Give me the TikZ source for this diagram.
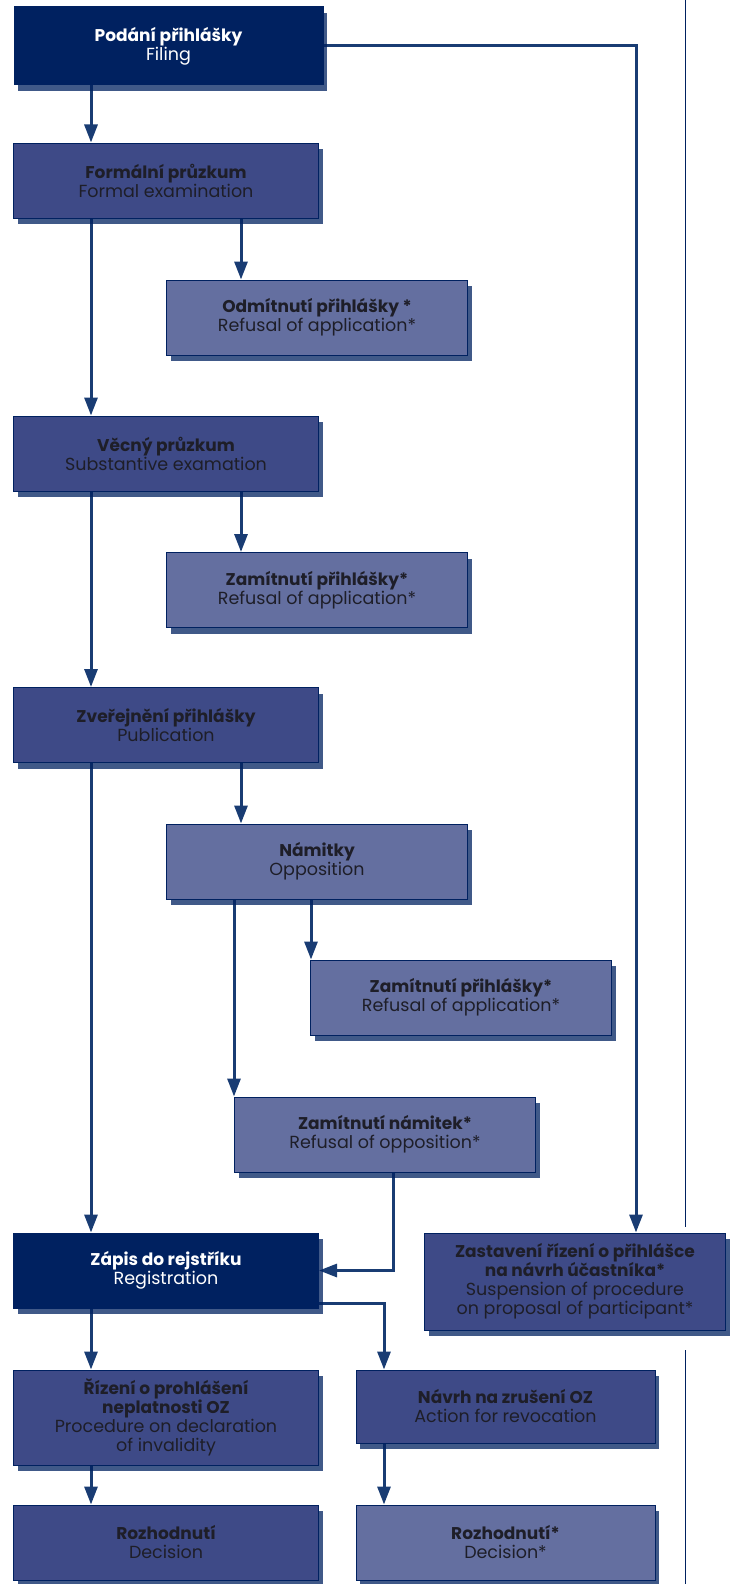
\documentclass[tikz,border=0pt]{standalone}
\usepackage{fontspec}
\setmainfont{Poppins}
\usetikzlibrary{arrows.meta, shadows}

\definecolor{navyDark}{RGB}{0,33,96}
\definecolor{navyMid}{RGB}{62,74,135}
\definecolor{navyLight}{RGB}{100,111,160}
\definecolor{lineBlue}{RGB}{25,60,115}
\definecolor{textDark}{RGB}{30,30,40}

\pgfdeclarelayer{background}
\pgfsetlayers{background,main}

\newcommand{\cz}[1]{{\fontsize{17}{19}\selectfont\bfseries #1}}

\tikzset{
	box/.style={draw=navyDark, line width=1pt, align=center, inner sep=0pt, text=textDark,
		font=\fontsize{17.5}{19}\selectfont,
		drop shadow={shadow xshift=4pt, shadow yshift=-6pt, fill=navyDark, opacity=0.75}},
	darkbox/.style={box, fill=navyDark, text=white},
	midbox/.style={box, fill=navyMid},
	lightbox/.style={box, fill=navyLight},
	flow/.style={draw=lineBlue, line width=3pt, -{Triangle[width=13pt,length=18pt]}},
}

\begin{document}
\begin{tikzpicture}[x=1pt, y=-1pt]
	\def\wLeft{305};
	\def\wRight{301};
	\def\hBox{75};

	\useasboundingbox (0,0) rectangle (734,1584);

	% left column
	\node[darkbox, minimum width=309pt, minimum height=78pt] (filing) at (168.5,46) {\cz{Podání přihlášky}\\Filing};
	\node[midbox, minimum width=\wLeft pt, minimum height=\hBox pt] (formal) at (166,180.5) {\cz{Formální průzkum}\\Formal examination};
	\node[midbox, minimum width=\wLeft pt, minimum height=\hBox pt] (substantive) at (166,453.5) {\cz{Věcný průzkum}\\Substantive examation};
	\node[midbox, minimum width=\wLeft pt, minimum height=\hBox pt] (publication) at (166,725) {\cz{Zveřejnění přihlášky}\\Publication};
	\node[darkbox, minimum width=\wLeft pt, minimum height=\hBox pt] (registration) at (166,1270.5) {\cz{Zápis do rejstříku}\\Registration};
	\node[midbox, minimum width=\wLeft pt, minimum height=95pt] (invalidity) at (166,1417.5) {\cz{Řízení o prohlášení}\\\cz{neplatnosti OZ}\\Procedure on declaration\\of invalidity};
	\node[midbox, minimum width=\wLeft pt, minimum height=\hBox pt] (decision) at (166,1542.5) {\cz{Rozhodnutí}\\Decision};

	% side branches
	\node[lightbox, minimum width=\wRight pt, minimum height=\hBox pt] (refusalA) at (317,317.5) {\cz{Odmítnutí přihlášky *}\\Refusal of application*};
	\node[lightbox, minimum width=\wRight pt, minimum height=\hBox pt] (refusalB) at (317,590) {\cz{Zamítnutí přihlášky*}\\Refusal of application*};
	\node[lightbox, minimum width=\wRight pt, minimum height=\hBox pt] (opposition) at (317,861.5) {\cz{Námitky}\\Opposition};
	\node[lightbox, minimum width=\wRight pt, minimum height=\hBox pt] (refusalC) at (461,997.5) {\cz{Zamítnutí přihlášky*}\\Refusal of application*};
	\node[lightbox, minimum width=\wRight pt, minimum height=\hBox pt] (oppRefusal) at (385,1134.5) {\cz{Zamítnutí námitek*}\\Refusal of opposition*};
	\node[midbox, minimum width=\wRight pt, minimum height=97pt] (suspension) at (575,1281.5) {\cz{Zastavení řízení o přihlášce}\\\cz{na návrh účastníka*}\\Suspension of procedure\\on proposal of participant*};
	\node[midbox, minimum width=299pt, minimum height=73pt] (revocation) at (505.5,1406.5) {\cz{Návrh na zrušení OZ}\\Action for revocation};
	\node[lightbox, minimum width=299pt, minimum height=\hBox pt] (decisionR) at (505.5,1542.5) {\cz{Rozhodnutí*}\\Decision*};

	\coordinate (colA) at (91,0);
	\coordinate (colB) at (241,0);
	\coordinate (colC) at (311,0);
	\coordinate (colD) at (234,0);
	\coordinate (colE) at (393,0);
	\coordinate (colF) at (384,0);
	\coordinate (colR) at (636,0);

	\begin{pgfonlayer}{background}
		\begin{scope}[flow]
			\draw (filing.south -| colA) -- (formal.north -| colA);
			\draw (formal.south -| colA) -- (substantive.north -| colA);
			\draw (substantive.south -| colA) -- (publication.north -| colA);
			\draw (publication.south -| colA) -- (registration.north -| colA);
			\draw (registration.south -| colA) -- (invalidity.north -| colA);
			\draw (invalidity.south -| colA) -- (decision.north -| colA);

			\draw (formal.south -| colB) -- (refusalA.north -| colB);
			\draw (substantive.south -| colB) -- (refusalB.north -| colB);
			\draw (publication.south -| colB) -- (opposition.north -| colB);
			\draw (opposition.south -| colC) -- (refusalC.north -| colC);
			\draw (opposition.south -| colD) -- (oppRefusal.north -| colD);
			\draw (oppRefusal.south -| colE) |- (registration.east);
			\draw ([yshift=5pt]registration.south east) -| (revocation.north -| colF);
			\draw (revocation.south -| colF) -- (decisionR.north -| colF);

			\draw (filing.east) -| (suspension.north -| colR);
		\end{scope}
	\end{pgfonlayer}

	% page rule
	\draw[navyDark, line width=1pt] (685,0) -- (685,1227);
	\draw[navyDark, line width=1pt] (685,1350) -- (685,1584);
\end{tikzpicture}
\end{document}
